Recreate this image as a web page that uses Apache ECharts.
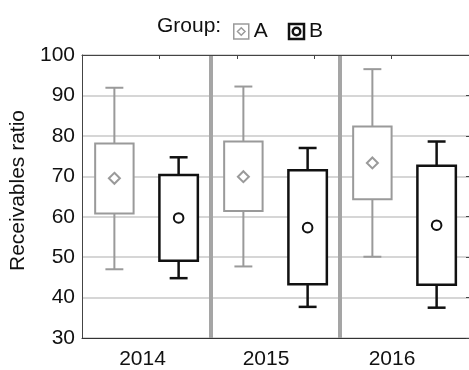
<!DOCTYPE html>
<html>
<head>
<meta charset="utf-8">
<script src="https://cdn.jsdelivr.net/npm/echarts@6/dist/echarts.min.js"></script>
<style>
html,body{margin:0;padding:0;background:#fff;}
#c{width:469px;height:370px;}
</style>
</head>
<body>
<div id="c"></div>
<script>
// ---- data ----
const categories = ['2014', '2015', '2016'];
const yTicks = [30, 40, 50, 60, 70, 80, 90, 100];
const groupA_min  = [47.0, 47.7, 50.1];
const groupA_q1   = [60.8, 61.4, 64.3];
const groupA_q3   = [78.1, 78.6, 82.3];
const groupA_max  = [91.9, 92.2, 96.5];
const groupA_mean = [69.5, 69.9, 73.3];
const groupB_min  = [44.8, 37.7, 37.5];
const groupB_q1   = [49.1, 43.3, 43.2];
const groupB_q3   = [70.3, 71.5, 72.6];
const groupB_max  = [74.7, 77.0, 78.6];
const groupB_mean = [59.7, 57.3, 57.9];

const FONT = "'Liberation Sans', Arial, sans-serif";
const FS = 21;
const colA = '#9a9a9a', colB = '#111111';

function rows(mn, q1, q3, mx, mean) {
  return categories.map((c, i) => [i, mn[i], q1[i], q3[i], mx[i], mean[i]]);
}

function makeRender(offsetFrac, color, lw, marker) {
  return function (params, api) {
    const cat = api.value(0);
    const band = api.size([1, 0])[0];
    const cx = api.coord([cat, 0])[0] + offsetFrac * band;
    const y = v => api.coord([cat, v])[1];
    const yMin = y(api.value(1)), yQ1 = y(api.value(2)), yQ3 = y(api.value(3)),
          yMax = y(api.value(4)), yMean = y(api.value(5));
    const bw = 0.298 * band, cw = 0.139 * band;
    const ls = {stroke: color, lineWidth: lw, fill: null};
    const children = [
      {type: 'line', shape: {x1: cx, y1: yQ3, x2: cx, y2: yMax}, style: ls},
      {type: 'line', shape: {x1: cx, y1: yQ1, x2: cx, y2: yMin}, style: ls},
      {type: 'line', shape: {x1: cx - cw / 2, y1: yMax, x2: cx + cw / 2, y2: yMax}, style: ls},
      {type: 'line', shape: {x1: cx - cw / 2, y1: yMin, x2: cx + cw / 2, y2: yMin}, style: ls},
      {type: 'rect', shape: {x: cx - bw / 2, y: yQ3, width: bw, height: yQ1 - yQ3},
        style: {stroke: color, lineWidth: lw, fill: '#fff'}}
    ];
    if (marker === 'diamond') {
      const r = 5.5;
      children.push({type: 'polygon', shape: {points: [[cx, yMean - r], [cx + r, yMean], [cx, yMean + r], [cx - r, yMean]]},
        style: {stroke: color, lineWidth: 2, fill: '#fff'}});
    } else {
      children.push({type: 'circle', shape: {cx: cx, cy: yMean, r: 4.8},
        style: {stroke: color, lineWidth: 2, fill: '#fff'}});
    }
    return {type: 'group', children: children};
  };
}

const chart = echarts.init(document.getElementById('c'), null, {renderer: 'canvas'});
chart.setOption({
  animation: false,
  backgroundColor: '#fff',
  textStyle: {fontFamily: FONT},
  grid: {left: 82, right: -2, top: 55, bottom: 31, containLabel: false},
  graphic: [
    {type: 'text', left: 157, top: 16, style: {text: 'Group:', font: FS + 'px ' + FONT, fill: '#111'}}
  ],
  legend: {
    left: 228, top: 16, itemWidth: 15, itemHeight: 15, itemGap: 20,
    textStyle: {fontSize: FS, color: '#111', fontFamily: FONT},
    data: [
      {name: 'A', icon: 'path://M0,0H20V20H0Z M10,5L15,10L10,15L5,10Z',
        itemStyle: {color: 'rgba(0,0,0,0)', borderColor: colA, borderWidth: 1.5}},
      {name: 'B', icon: 'path://M0,0H20V20H0Z M5,10A5,5 0 1,0 15,10A5,5 0 1,0 5,10Z',
        itemStyle: {color: 'rgba(0,0,0,0)', borderColor: colB, borderWidth: 2.5}}
    ]
  },
  xAxis: [
    {
      type: 'category', data: categories, position: 'bottom', boundaryGap: true,
      axisLine: {show: true, lineStyle: {color: '#333', width: 1}},
      axisTick: {show: false},
      axisLabel: {
        fontSize: FS, color: '#111', margin: 11, fontFamily: FONT,
        formatter: (v, i) => '{p' + i + '|' + v + '}',
        rich: {
          p0: {fontSize: FS, fontFamily: FONT, color: '#111', padding: [0, 8, 0, 0]},
          p1: {fontSize: FS, fontFamily: FONT, color: '#111', padding: [0, 19, 0, 0]},
          p2: {fontSize: FS, fontFamily: FONT, color: '#111', padding: [0, 25, 0, 0]}
        }
      },
      splitLine: {show: true, showMinLine: false, showMaxLine: false,
        lineStyle: {color: '#a5a5a5', width: 4}}
    },
    {
      type: 'value', position: 'top', min: 0, max: 5, interval: 1,
      axisLine: {show: true, onZero: false, lineStyle: {color: '#444', width: 1}},
      axisTick: {show: true, inside: true, length: 4, lineStyle: {color: '#444'}},
      axisLabel: {show: false}, splitLine: {show: false}
    }
  ],
  yAxis: [
    {
      type: 'value', min: yTicks[0], max: yTicks[yTicks.length - 1], interval: 10,
      name: 'Receivables ratio', nameLocation: 'middle', nameGap: 53,
      nameTextStyle: {fontSize: FS, color: '#111', fontFamily: FONT, padding: [0, 0, 0, 12]},
      axisLine: {show: true, lineStyle: {color: '#444', width: 1}},
      axisTick: {show: false},
      axisLabel: {fontSize: FS, color: '#111', margin: 7, fontFamily: FONT},
      splitLine: {show: true, lineStyle: {color: '#c8c8c8', width: 1.5}}
    },
    {
      type: 'value', position: 'right', min: yTicks[0], max: yTicks[yTicks.length - 1], interval: 10,
      axisLine: {show: false}, axisTick: {show: true, inside: true, length: 3, lineStyle: {color: '#444'}},
      axisLabel: {show: false}, splitLine: {show: false}
    }
  ],
  series: [
    {name: 'A', type: 'custom', xAxisIndex: 0, yAxisIndex: 0,
      renderItem: makeRender(-0.249, colA, 2, 'diamond'),
      encode: {x: 0, y: [1, 2, 3, 4, 5]},
      data: rows(groupA_min, groupA_q1, groupA_q3, groupA_max, groupA_mean), z: 5},
    {name: 'B', type: 'custom', xAxisIndex: 0, yAxisIndex: 0,
      renderItem: makeRender(0.249, colB, 2.5, 'circle'),
      encode: {x: 0, y: [1, 2, 3, 4, 5]},
      data: rows(groupB_min, groupB_q1, groupB_q3, groupB_max, groupB_mean), z: 5}
  ]
});
</script>
</body>
</html>
